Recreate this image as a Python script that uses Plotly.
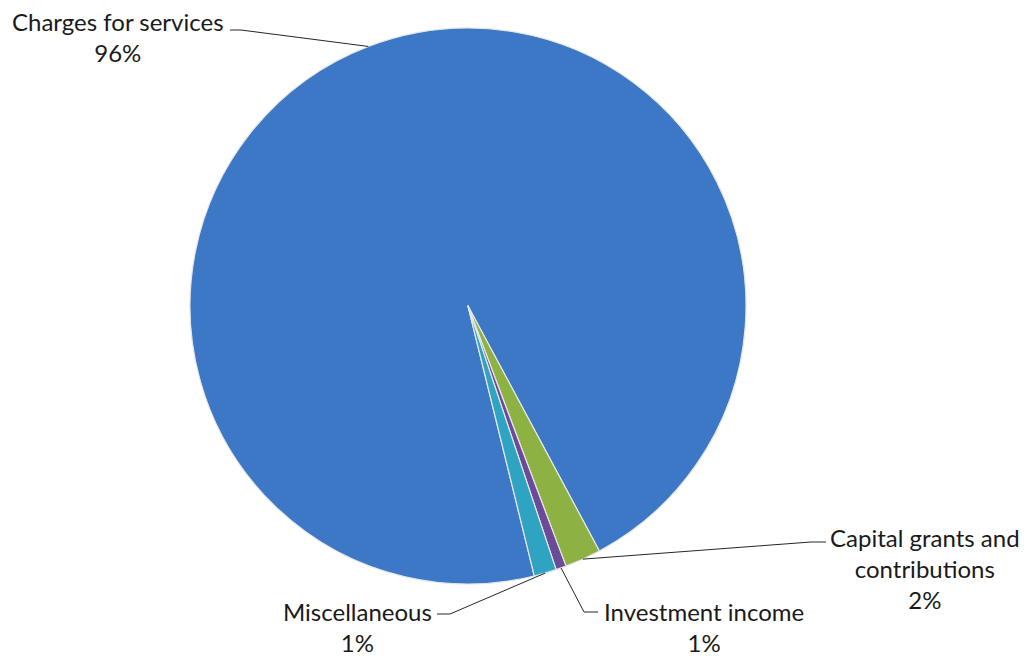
import math
import plotly.graph_objects as go

# ---- data ----
categories = ["Charges for services", "Capital grants and contributions",
              "Investment income", "Miscellaneous"]
values = [96.0, 2.1, 0.6, 1.3]
pct_labels = ["96%", "2%", "1%", "1%"]
label_text = ["Charges for services<br>96%",
              "Capital grants and<br>contributions<br>2%",
              "Investment income<br>1%",
              "Miscellaneous<br>1%"]
colors = ["#3d78c6", "#8db243", "#6b4b98", "#2ea3c2"]

# ---- layout geometry ----
W, H = 1033, 658
cx, cy, R = 468, 306, 278
rotation = 166.2

fig = go.Figure()
fig.add_trace(go.Pie(
    labels=categories,
    values=values,
    sort=False,
    direction="clockwise",
    rotation=rotation,
    marker=dict(colors=colors, line=dict(color="#e6e6e6", width=1.2)),
    textinfo="none",
    hovertemplate="%{label}: %{percent:.0%}<extra></extra>",
    domain=dict(x=[(cx - R) / W, (cx + R) / W],
                y=[1 - (cy + R) / H, 1 - (cy - R) / H]),
    showlegend=False,
))

# compute edge points at slice mid-angles from the data
total = sum(values)
edge = []
cum = 0.0
for v in values:
    mid = rotation + (cum + v / 2) / total * 360.0
    cum += v
    a = math.radians(mid)
    edge.append((cx + R * math.sin(a), cy - R * math.cos(a)))

# label placement (pixels): text centre, elbow point, line end
label_pos = [(118, 37), (925, 568), (704, 627), (357, 627)]
elbows = [(241, 30), (811, 542), (584, 612), (450, 614)]
ends = [(230, 30), (826, 542), (598, 612), (437, 614)]

def px2paper(x, y):
    return x / W, 1 - y / H

shapes = []
for (ex, ey), (bx, by), (tx, ty) in zip(edge, elbows, ends):
    x0, y0 = px2paper(ex, ey)
    x1, y1 = px2paper(bx, by)
    x2, y2 = px2paper(tx, ty)
    shapes.append(dict(type="path", xref="paper", yref="paper",
                       path=f"M {x0} {y0} L {x1} {y1} L {x2} {y2}",
                       line=dict(color="#262626", width=1)))

annotations = []
for txt, (lx, ly) in zip(label_text, label_pos):
    x, y = px2paper(lx, ly)
    annotations.append(dict(text=txt, x=x, y=y, xref="paper", yref="paper",
                            xanchor="center", yanchor="middle",
                            showarrow=False, align="center",
                            font=dict(family="Lato", size=24, color="#1a1a1a")))

fig.update_layout(
    width=W, height=H,
    margin=dict(l=0, r=0, t=0, b=0),
    paper_bgcolor="white",
    plot_bgcolor="white",
    shapes=shapes,
    annotations=annotations,
)

fig.write_html("out.html",
               config={"displayModeBar": False},
               post_script="document.body.style.margin='0';document.body.style.overflow='hidden';")
